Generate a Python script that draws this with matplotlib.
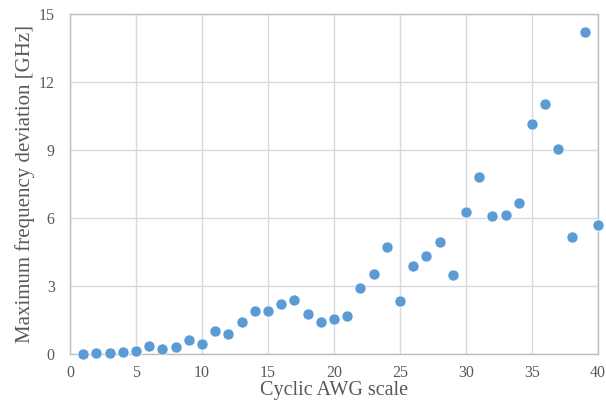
import matplotlib
matplotlib.use("Agg")
import matplotlib.pyplot as plt

plt.rcParams["font.family"] = ["Liberation Serif", "DejaVu Serif"]

# cyclic AWG scale and max frequency deviation in GHz
awg_scale = list(range(1, 41))
max_dev = [0.02, 0.03, 0.06, 0.10, 0.15, 0.34, 0.24, 0.31, 0.60, 0.44,
           1.01, 0.88, 1.40, 1.91, 1.91, 2.22, 2.38, 1.75, 1.41, 1.56,
           1.68, 2.90, 3.51, 4.71, 2.34, 3.88, 4.31, 4.96, 3.47, 6.28,
           7.79, 6.09, 6.13, 6.66, 10.15, 11.04, 9.03, 5.15, 14.22, 5.68]

fig = plt.figure(figsize=(6.06, 4.05), dpi=100)
ax = fig.add_axes([70 / 606, 1 - 354 / 405, 528 / 606, 340 / 405])

ax.scatter(awg_scale, max_dev, s=64, color="#5B9BD5", edgecolors="white",
           linewidths=0.5, zorder=3, clip_on=False)

ax.set_xlim(0, 40)
ax.set_ylim(0, 15)
ax.set_xticks(range(0, 41, 5))
ax.set_yticks(range(0, 16, 3))
ax.grid(True, color="#D9D9D9", linewidth=1.0)
ax.set_axisbelow(True)
for side in ["top", "right", "left", "bottom"]:
    ax.spines[side].set_color("#BFBFBF")
    ax.spines[side].set_linewidth(1.0)
ax.tick_params(axis="y", length=0, labelsize=11.5, colors="#595959", pad=11)
ax.tick_params(axis="x", length=0, labelsize=11.5, colors="#595959", pad=8)

ax.set_xlabel("Cyclic AWG scale", fontsize=14.5, color="#595959", labelpad=0)
ax.set_ylabel("Maximum frequency deviation [GHz]", fontsize=15,
              color="#595959", labelpad=3)

fig.savefig("out.png", dpi=100)
